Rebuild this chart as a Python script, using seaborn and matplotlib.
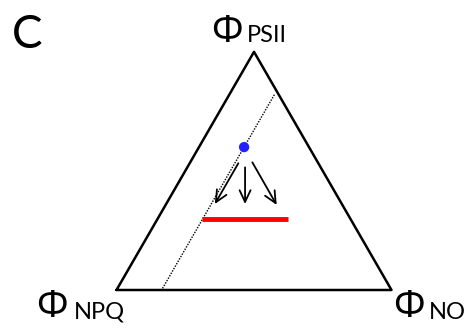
import numpy as np
import pandas as pd
import matplotlib
matplotlib.use('Agg')
import matplotlib.pyplot as plt
import seaborn as sns

# ternary data as fractions (phi_psii, phi_no); phi_npq = 1 - psii - no
edge_psii = [0.0, 0.0, 1.0, 0.0]
edge_no = [0.0, 1.0, 0.0, 0.0]

dotted_psii = [0.82, 0.0]
dotted_no = [0.164, 0.164]

point_psii = [0.60]
point_no = [0.164]

arrow_start_psii = [0.532, 0.515, 0.536]
arrow_start_no = [0.177, 0.210, 0.226]
arrow_end_psii = [0.361, 0.361, 0.357]
arrow_end_no = [0.177, 0.287, 0.404]

red_psii = [0.298, 0.298]
red_no = [0.161, 0.4735]

vertex_labels = ['PSII', 'NPQ', 'NO']
panel_label = 'C'


def to_xy(psii, no):
    psii = np.asarray(psii, dtype=float)
    no = np.asarray(no, dtype=float)
    return no + psii / 2, psii * np.sqrt(3) / 2


sns.set_theme(style='white')
plt.rcParams['font.family'] = ['Lato', 'DejaVu Sans']
plt.rcParams['text.color'] = 'black'

W, H = 476, 331
fig = plt.figure(figsize=(W / 100, H / 100), dpi=100)
ax = fig.add_axes([0, 0, 1, 1])
ax.set_axis_off()

scale = 275.0
x0, y0 = 116.5, 290.0
ax.set_xlim(-x0 / scale, (W - x0) / scale)
ax.set_ylim(-(H - y0) / scale, y0 / scale)

ex, ey = to_xy(edge_psii, edge_no)
sns.lineplot(x=ex, y=ey, sort=False, estimator=None, color='black', lw=1.8,
             ax=ax)

dx, dy = to_xy(dotted_psii, dotted_no)
sns.lineplot(x=dx, y=dy, sort=False, estimator=None, color='black', lw=1.0,
             ax=ax, linestyle=(0, (1, 1)))

rx, ry = to_xy(red_psii, red_no)
sns.lineplot(x=rx, y=ry, sort=False, estimator=None, color='#ff0000', lw=3.5,
             ax=ax, solid_capstyle='butt')

sx, sy = to_xy(arrow_start_psii, arrow_start_no)
tx, ty = to_xy(arrow_end_psii, arrow_end_no)
for a, b, c, d in zip(sx, sy, tx, ty):
    ax.annotate('', xy=(c, d), xytext=(a, b),
                arrowprops=dict(arrowstyle='->,head_length=0.7,head_width=0.33',
                                color='black', lw=1.3, shrinkA=0, shrinkB=0))

px, py = to_xy(point_psii, point_no)
sns.scatterplot(x=px, y=py, color='#2222ff', s=55, marker='o',
                edgecolor='none', ax=ax, zorder=5)


# labels (positions in pixels from top-left)
def label(phi_x, phi_y, sub_x, sub_y, sub):
    fig.text(phi_x / W, 1 - phi_y / H, '\u03a6', fontsize=27, ha='left',
             va='baseline', family=['Noto Sans', 'DejaVu Sans'])
    fig.text(sub_x / W, 1 - sub_y / H, sub, fontsize=17, ha='left',
             va='baseline')


label(211, 42, 246.5, 42, vertex_labels[0])
label(36.5, 317, 73.5, 319, vertex_labels[1])
label(393, 317, 428.5, 319, vertex_labels[2])

fig.text(12 / W, 1 - 48 / H, panel_label, fontsize=33, ha='left',
         va='baseline')

fig.savefig('out.png', dpi=100)
